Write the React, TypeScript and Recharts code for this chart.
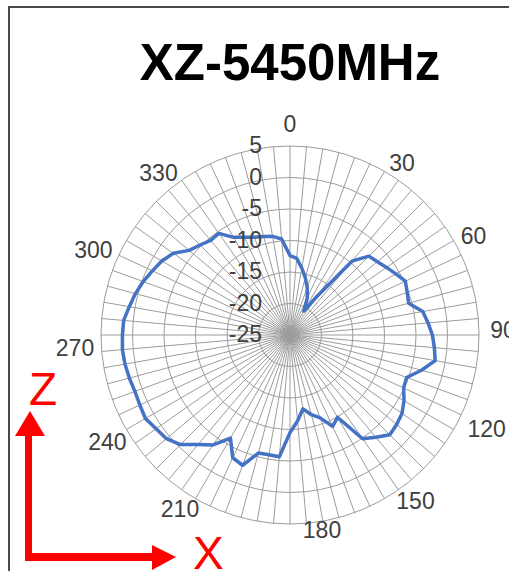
import React from 'react';
import { RadarChart, Radar, PolarGrid, PolarAngleAxis, PolarRadiusAxis } from 'recharts';

// ---- data ----
const chartTitle = 'XZ-5450MHz';

const angleCategories = [
  0, 5, 10, 15, 20, 25, 30, 35, 40, 45, 50, 55,
  60, 65, 70, 75, 80, 85, 90, 95, 100, 105, 110, 115,
  120, 125, 130, 135, 140, 145, 150, 155, 160, 165, 170, 175,
  180, 185, 190, 195, 200, 205, 210, 215, 220, 225, 230, 235,
  240, 245, 250, 255, 260, 265, 270, 275, 280, 285, 290, 295,
  300, 305, 310, 315, 320, 325, 330, 335, 340, 345, 350, 355,
];

const gainValues = [
  -12.4, -12.8, -14.2, -15.6, -17.0, -18.5, -20.6, -17.5, -9.7, -7.3, -6.9, -6.3,
  -5.6, -4.8, -5.2, -5.5, -3.6, -3.0, -2.4, -2.0, -1.6, -3.4, -5.3, -5.1,
  -4.1, -3.3, -2.9, -2.6, -3.8, -4.9, -9.9, -9.0, -11.0, -11.9, -13.1, -11.3,
  -9.5, -5.6, -5.7, -5.6, -3.0, -3.5, -6.1, -3.7, -2.3, -0.4, 0.6, 0.95,
  1.5, 1.3, 1.2, 1.4, 1.6, 1.7, 1.6, 1.5, 0.9, 0.4, -0.2, -0.9,
  -1.5, -2.4, -4.1, -4.8, -5.4, -5.3, -7.1, -7.9, -8.5, -8.8, -9.1, -9.7,
];

const radiusTicks = [-25, -20, -15, -10, -5, 0, 5];
const angleLabelValues = [0, 30, 60, 90, 120, 150, 180, 210, 240, 270, 300, 330];

const chartData = angleCategories.map((a, i) => ({ angle: a, gain: gainValues[i] }));

// ---- styles ----
const LABEL_FONT = '"Liberation Sans", Arial, sans-serif';
const LABEL_COLOR = '#404040';
const GRID_COLOR = '#9c9c9c';
const LINE_COLOR = '#4472C4';

// nudges of the category labels relative to the library tick anchor
const LABEL_NUDGE: Record<number, [number, number]> = {
  0: [0, -14],
  30: [13.5, -1],
  60: [13, -1],
  90: [16, -5],
  120: [26, -5],
  150: [27, -5],
  180: [32, -2],
  210: [-11.5, 3],
  240: [-12, 8.5],
  270: [-18, 13],
  300: [-26, 13.5],
  330: [-33, 9],
};

const AngleTick = (props: any) => {
  const { x, y, payload } = props;
  const v = Number(payload.value);
  if (!angleLabelValues.includes(v)) return null;
  const [dx, dy] = LABEL_NUDGE[v] || [0, 0];
  return (
    <text
      x={x + dx}
      y={y + dy}
      textAnchor="middle"
      dominantBaseline="central"
      fill={LABEL_COLOR}
      fontSize={23}
      fontFamily={LABEL_FONT}
    >
      {v}
    </text>
  );
};

const RadiusTick = (props: any) => {
  const { x, y, payload } = props;
  return (
    <text
      x={x - 28}
      y={y - 1}
      textAnchor="end"
      dominantBaseline="central"
      fill={LABEL_COLOR}
      fontSize={23}
      fontFamily={LABEL_FONT}
    >
      {payload.value}
    </text>
  );
};

export default function App() {
  return (
    <div
      style={{
        position: 'absolute',
        left: 0,
        top: 0,
        width: 509,
        height: 571,
        overflow: 'hidden',
        background: '#fff',
      }}
    >
      {/* chart frame */}
      <div
        style={{
          position: 'absolute',
          left: 8,
          top: 6,
          width: 620,
          height: 620,
          borderLeft: '2px solid #4a4a4a',
          borderTop: '2px solid #4a4a4a',
          boxSizing: 'border-box',
        }}
      />
      {/* title */}
      <div
        style={{
          position: 'absolute',
          left: 0,
          top: 37,
          width: 580,
          textAlign: 'center',
          fontFamily: '"Liberation Sans", Arial, sans-serif',
          fontWeight: 'bold',
          fontSize: 51,
          lineHeight: '51px',
          color: '#000',
          whiteSpace: 'nowrap',
        }}
      >
        {chartTitle}
      </div>
      <div style={{ position: 'absolute', left: 0, top: 0 }}>
        <RadarChart
          width={580}
          height={571}
          cx={290}
          cy={335}
          outerRadius={189}
          data={chartData}
          margin={{ top: 0, right: 0, bottom: 0, left: 0 }}
        >
          <PolarGrid gridType="circle" stroke={GRID_COLOR} strokeWidth={1} />
          <PolarAngleAxis
            dataKey="angle"
            tick={AngleTick}
            tickLine={false}
            axisLine={false}
          />
          <PolarRadiusAxis
            angle={90}
            type="number"
            domain={[-25, 5]}
            ticks={radiusTicks as any}
            tickCount={7}
            tick={RadiusTick}
            axisLine={false}
            tickLine={false}
          />
          <Radar
            dataKey="gain"
            stroke={LINE_COLOR}
            strokeWidth={3.5}
            strokeLinejoin="round"
            fill="none"
            fillOpacity={0}
            dot={false}
            isAnimationActive={false}
          />
        </RadarChart>
      </div>
      {/* axis orientation arrows */}
      <svg
        width={509}
        height={571}
        style={{ position: 'absolute', left: 0, top: 0 }}
      >
        <rect x={25} y={432} width={7} height={129} fill="#ff0000" />
        <polygon points="15,436 45,436 30,411" fill="#ff0000" />
        <rect x={25} y={553} width={130} height={8} fill="#ff0000" />
        <polygon points="152,545 152,570 176,557" fill="#ff0000" />
        <text
          x={29}
          y={405}
          fill="#ff0000"
          fontSize={46}
          fontFamily='"Liberation Sans", Arial, sans-serif'
        >
          Z
        </text>
        <text
          x={193}
          y={569}
          fill="#ff0000"
          fontSize={46}
          fontFamily='"Liberation Sans", Arial, sans-serif'
        >
          X
        </text>
      </svg>
    </div>
  );
}
